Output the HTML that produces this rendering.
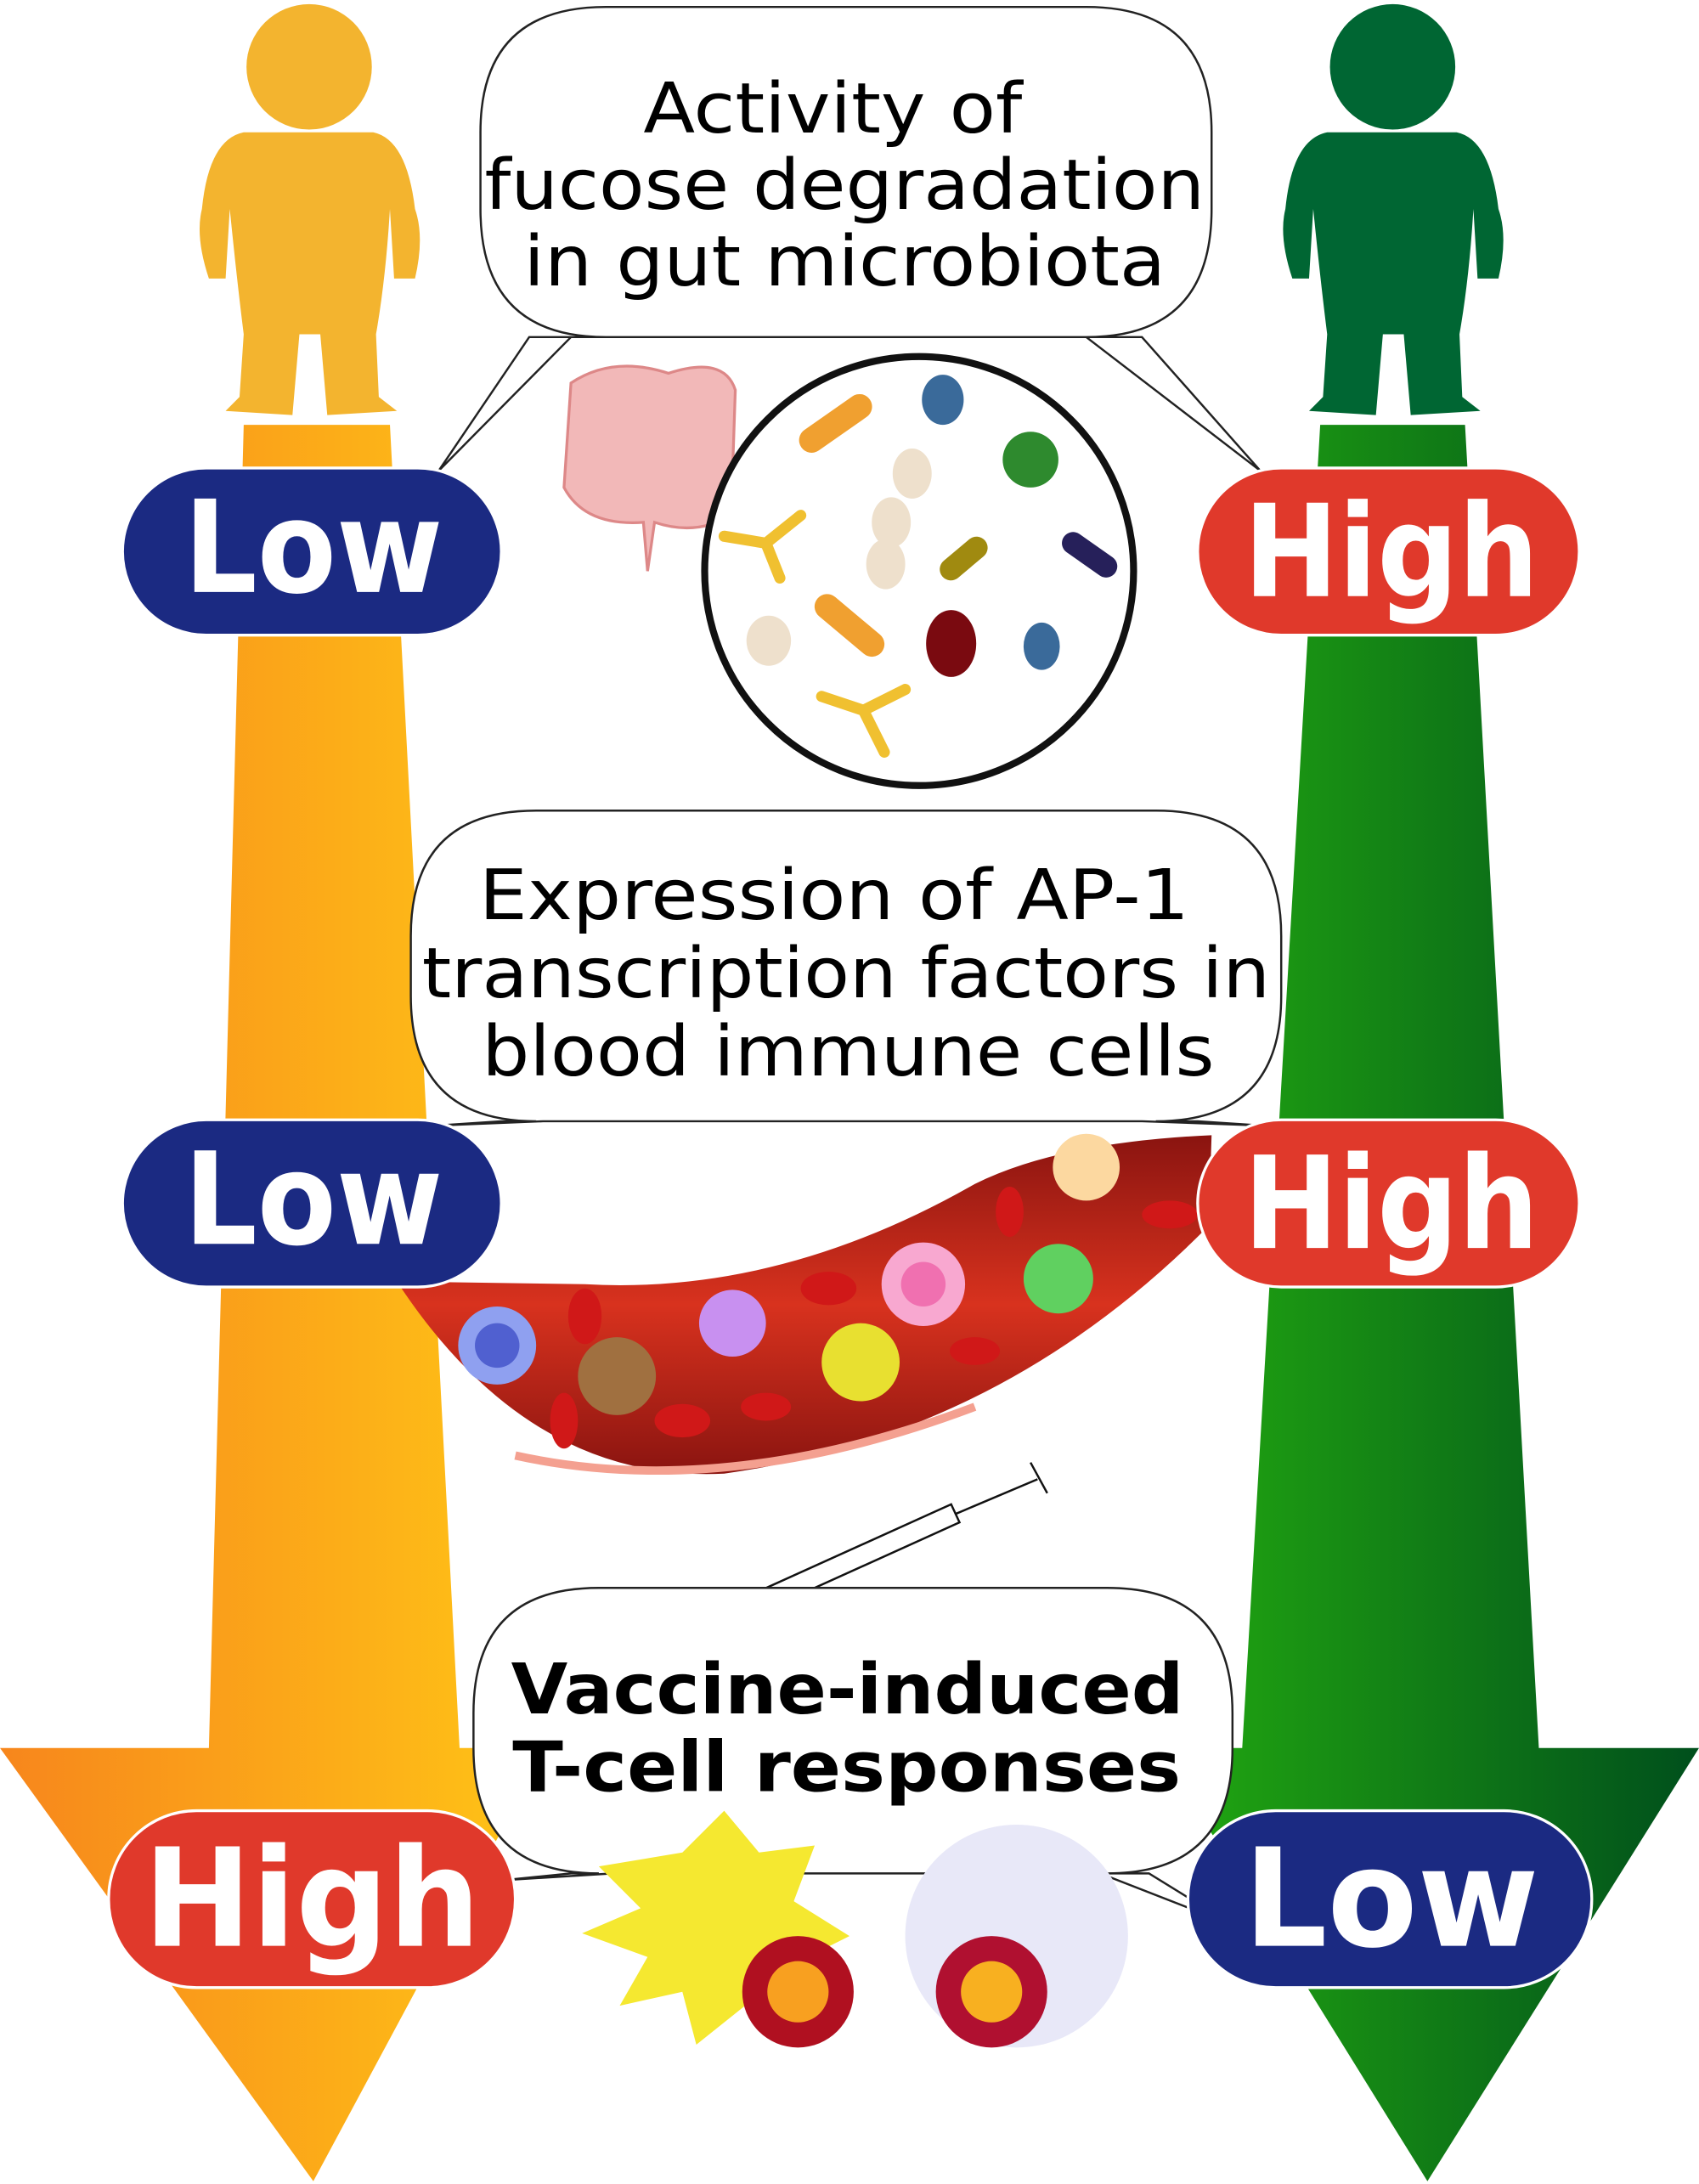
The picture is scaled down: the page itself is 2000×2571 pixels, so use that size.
<!DOCTYPE html>
<html><head><meta charset="utf-8"><style>
html,body{margin:0;padding:0;background:#fff;}
svg{display:block;}
text{font-family:"DejaVu Sans","Liberation Sans",sans-serif;}
</style></head><body>
<svg width="2000" height="2571" viewBox="0 0 1220 1568" preserveAspectRatio="none" xmlns="http://www.w3.org/2000/svg">
<defs>
<linearGradient id="og" x1="0" x2="1" y1="0" y2="0"><stop offset="0" stop-color="#f7861c"/><stop offset="1" stop-color="#ffc516"/></linearGradient>
<linearGradient id="gg" x1="0" x2="1" y1="0" y2="0"><stop offset="0" stop-color="#22aa10"/><stop offset="1" stop-color="#004f1c"/></linearGradient>
<linearGradient id="vg" x1="0" x2="0" y1="0" y2="1"><stop offset="0" stop-color="#8a1410"/><stop offset="0.5" stop-color="#d8321e"/><stop offset="1" stop-color="#8a1410"/></linearGradient>
</defs>
<!-- arrows -->
<path d="M175 305 L280 305 L330 1255 L392 1255 L225 1566 L0 1255 L150 1255 Z" fill="url(#og)"/>
<path d="M948 305 L1052 305 L1105 1255 L1220 1255 L1025 1566 L832 1255 L892 1255 Z" fill="url(#gg)"/>
<!-- figures -->
<g fill="#f3b42f">
<circle cx="222" cy="48" r="45"/>
<path d="M175 95 Q150 100 145 150 Q140 170 150 200 L162 200 L165 150 Q170 200 175 240 L172 285 L162 295 L210 298 L215 240 L230 240 L235 298 L285 295 L272 285 L270 240 Q277 200 280 150 L283 200 L298 200 Q305 170 298 150 Q292 100 268 95 Z"/>
</g>
<g fill="#006633">
<circle cx="1000" cy="48" r="45"/>
<path d="M953 95 Q928 100 923 150 Q918 170 928 200 L940 200 L943 150 Q948 200 953 240 L950 285 L940 295 L988 298 L993 240 L1008 240 L1013 298 L1063 295 L1050 285 L1048 240 Q1055 200 1058 150 L1061 200 L1076 200 Q1083 170 1076 150 Q1070 100 1046 95 Z"/>
</g>
<!-- bubble 1 -->
<path d="M435 5 L780 5 Q870 5 870 95 L870 150 Q870 242 780 242 L820 242 L905 338 L780 242 L410 242 L315 338 L380 242 L435 242 Q345 242 345 150 L345 95 Q345 5 435 5 Z" fill="#fff" stroke="#222" stroke-width="1.5"/>
<text x="462" y="95" font-size="50" textLength="272" lengthAdjust="spacingAndGlyphs">Activity of</text>
<text x="348" y="150" font-size="50" textLength="517" lengthAdjust="spacingAndGlyphs">fucose degradation</text>
<text x="376" y="205" font-size="50" textLength="461" lengthAdjust="spacingAndGlyphs">in gut microbiota</text>
<!-- intestine -->
<path d="M410 275 Q440 255 480 268 Q520 255 528 280 L525 370 Q500 385 470 375 L465 410 L462 375 Q420 378 405 350 Z" fill="#f2b8b8" stroke="#d88" stroke-width="2"/>
<!-- microbe circle -->
<circle cx="660" cy="410" r="154" fill="#fff" stroke="#111" stroke-width="5"/>
<rect x="570" y="295" width="60" height="18" rx="9" fill="#f0a030" transform="rotate(-35 600 304)"/>
<ellipse cx="677" cy="287" rx="15" ry="18" fill="#3a6a9a"/>
<circle cx="740" cy="330" r="20" fill="#2e8a2e"/>
<ellipse cx="655" cy="340" rx="14" ry="18" fill="#eee0cc"/>
<ellipse cx="640" cy="375" rx="14" ry="18" fill="#eee0cc"/>
<ellipse cx="636" cy="405" rx="14" ry="18" fill="#eee0cc"/>
<rect x="672" y="393" width="40" height="16" rx="8" fill="#a08a10" transform="rotate(-40 692 401)"/>
<rect x="760" y="390" width="45" height="16" rx="8" fill="#26205a" transform="rotate(35 782 398)"/>
<rect x="580" y="440" width="60" height="18" rx="9" fill="#f0a030" transform="rotate(40 610 449)"/>
<ellipse cx="552" cy="460" rx="16" ry="18" fill="#eee0cc"/>
<ellipse cx="683" cy="462" rx="18" ry="24" fill="#7a0a10"/>
<ellipse cx="748" cy="464" rx="13" ry="17" fill="#3a6a9a"/>
<path d="M520 385 L550 390 L575 370 M550 390 L560 415 M590 500 L620 510 L635 540 M620 510 L650 495" stroke="#f0c030" stroke-width="8" fill="none" stroke-linecap="round"/>
<!-- bubble 2 -->
<path d="M385 582 L830 582 Q920 582 920 672 L920 715 Q920 805 830 805 L860 805 L905 808 L820 805 L390 805 L315 808 L360 805 L385 805 Q295 805 295 715 L295 672 Q295 582 385 582 Z" fill="#fff" stroke="#222" stroke-width="1.5"/>
<text x="344" y="660" font-size="50" textLength="510" lengthAdjust="spacingAndGlyphs">Expression of AP-1</text>
<text x="303" y="716" font-size="50" textLength="609" lengthAdjust="spacingAndGlyphs">transcription factors in</text>
<text x="346" y="772" font-size="50" textLength="526" lengthAdjust="spacingAndGlyphs">blood immune cells</text>
<!-- vessel -->
<path d="M285 920 Q380 1065 520 1058 Q720 1030 868 880 L870 815 Q760 820 700 850 Q560 930 420 922 Z" fill="url(#vg)"/>
<path d="M370 1045 Q520 1078 700 1010" stroke="#f4a090" stroke-width="6" fill="none"/>
<circle cx="357" cy="966" r="28" fill="#8fa0f0"/><circle cx="357" cy="966" r="16" fill="#5060d0"/>
<circle cx="443" cy="988" r="28" fill="#a07040"/>
<circle cx="526" cy="950" r="24" fill="#c890f0"/>
<circle cx="618" cy="978" r="28" fill="#e8e030"/>
<circle cx="663" cy="922" r="30" fill="#f8a8d0"/><circle cx="663" cy="922" r="16" fill="#f070b0"/>
<circle cx="760" cy="918" r="25" fill="#60d060"/>
<circle cx="780" cy="838" r="24" fill="#fcd8a0"/>
<g fill="#d01818"><ellipse cx="420" cy="945" rx="12" ry="20"/><ellipse cx="405" cy="1020" rx="10" ry="20"/><ellipse cx="490" cy="1020" rx="20" ry="12"/><ellipse cx="550" cy="1010" rx="18" ry="10"/><ellipse cx="595" cy="925" rx="20" ry="12"/><ellipse cx="700" cy="970" rx="18" ry="10"/><ellipse cx="725" cy="870" rx="10" ry="18"/><ellipse cx="840" cy="872" rx="20" ry="10"/></g>
<!-- syringe -->
<g stroke="#111" stroke-width="1.5" fill="#fff"><line x1="472" y1="1182" x2="540" y2="1152"/><path d="M537 1146 L683 1080 L689 1093 L543 1159 Z"/><line x1="686" y1="1087" x2="745" y2="1062"/><line x1="740" y1="1050" x2="752" y2="1072"/></g>
<!-- bubble 3 -->
<path d="M430 1140 L795 1140 Q885 1140 885 1230 L885 1255 Q885 1345 795 1345 L825 1345 L885 1382 L790 1345 L440 1345 L360 1350 L410 1345 L430 1345 Q340 1345 340 1255 L340 1230 Q340 1140 430 1140 Z" fill="#fff" stroke="#222" stroke-width="1.5"/>
<text x="367" y="1230" font-size="50" font-weight="bold" textLength="483" lengthAdjust="spacingAndGlyphs">Vaccine-induced</text>
<text x="368" y="1286" font-size="50" font-weight="bold" textLength="480" lengthAdjust="spacingAndGlyphs">T-cell responses</text>
<!-- T cells -->
<path d="M430 1340 L490 1330 L520 1300 L545 1330 L585 1325 L570 1365 L610 1390 L570 1410 L575 1455 L535 1440 L500 1468 L490 1430 L445 1440 L465 1405 L418 1388 L460 1370 Z" fill="#f5e830"/>
<circle cx="573" cy="1430" r="40" fill="#b01020"/><circle cx="573" cy="1430" r="22" fill="#f8a020"/>
<circle cx="730" cy="1390" r="80" fill="#e8e8f8"/>
<circle cx="712" cy="1430" r="40" fill="#b01030"/><circle cx="712" cy="1430" r="22" fill="#f8b020"/>
<!-- pills -->
<g font-weight="bold" fill="#fff">
<rect x="88" y="336" width="272" height="120" rx="60" fill="#1b2a82" stroke="#fff" stroke-width="2"/>
<text x="132" y="425" font-size="92" textLength="186" lengthAdjust="spacingAndGlyphs">Low</text>
<rect x="860" y="336" width="274" height="120" rx="60" fill="#e0392b" stroke="#fff" stroke-width="2"/>
<text x="893" y="428" font-size="92" textLength="212" lengthAdjust="spacingAndGlyphs">High</text>
<rect x="88" y="804" width="272" height="120" rx="60" fill="#1b2a82" stroke="#fff" stroke-width="2"/>
<text x="132" y="893" font-size="92" textLength="186" lengthAdjust="spacingAndGlyphs">Low</text>
<rect x="860" y="804" width="274" height="120" rx="60" fill="#e0392b" stroke="#fff" stroke-width="2"/>
<text x="893" y="896" font-size="92" textLength="212" lengthAdjust="spacingAndGlyphs">High</text>
<rect x="78" y="1300" width="292" height="127" rx="63" fill="#e0392b" stroke="#fff" stroke-width="2"/>
<text x="103" y="1397" font-size="98" textLength="242" lengthAdjust="spacingAndGlyphs">High</text>
<rect x="853" y="1300" width="290" height="127" rx="63" fill="#1b2a82" stroke="#fff" stroke-width="2"/>
<text x="893" y="1397" font-size="98" textLength="212" lengthAdjust="spacingAndGlyphs">Low</text>
</g>
</svg>
</body></html>
